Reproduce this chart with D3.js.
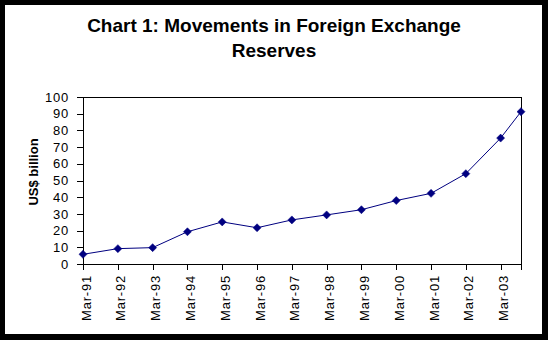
<!DOCTYPE html>
<html>
<head>
<meta charset="utf-8">
<script src="https://cdn.jsdelivr.net/npm/d3@7"></script>
<style>
  html, body { margin: 0; padding: 0; background: #000; }
  svg { display: block; }
  text { font-family: "Liberation Sans", Arial, sans-serif; }
</style>
</head>
<body>
<svg id="chart" width="548" height="340"></svg>
<script>
// Foreign exchange reserves, US$ billion, end of period
const dates = ["1991-03-01", "1992-03-01", "1993-03-01", "1994-03-01", "1995-03-01",
               "1996-03-01", "1997-03-01", "1998-03-01", "1999-03-01", "2000-03-01",
               "2001-03-01", "2002-03-01", "2003-03-01", "2003-10-01"];
const reserves = [5.8, 9.2, 9.8, 19.3, 25.2, 21.7, 26.4, 29.4, 32.5, 38.0, 42.3, 54.1, 75.4, 91.2];
const tickDates = ["1991-03-01", "1992-03-01", "1993-03-01", "1994-03-01", "1995-03-01",
                   "1996-03-01", "1997-03-01", "1998-03-01", "1999-03-01", "2000-03-01",
                   "2001-03-01", "2002-03-01", "2003-03-01"];
const yTicks = [0, 10, 20, 30, 40, 50, 60, 70, 80, 90, 100];
const titleLines = ["Chart 1: Movements in Foreign Exchange", "Reserves"];
const yTitle = "US$ billion";

const parse = d3.utcParse("%Y-%m-%d");
const fmt = d3.utcFormat("%b-%y");
const points = dates.map((d, i) => ({ date: parse(d), value: reserves[i] }));

const svg = d3.select("#chart");
const W = 548, H = 340;
const plot = { left: 83, top: 97, right: 521, bottom: 264 };
const navy = "#000080";

// page frame
svg.append("rect").attr("x", 0).attr("y", 0).attr("width", W).attr("height", H).attr("fill", "#000");
svg.append("rect").attr("x", 5).attr("y", 5).attr("width", 537).attr("height", 329).attr("fill", "#fff");

// title
svg.append("g").selectAll("text").data(titleLines).join("text")
  .attr("x", 274)
  .attr("y", (d, i) => 32 + i * 25)
  .attr("text-anchor", "middle")
  .attr("font-size", 19)
  .attr("font-weight", "bold")
  .attr("fill", "#000")
  .text(d => d);

const x = d3.scaleUtc()
  .domain(d3.extent(points, d => d.date))
  .range([plot.left, plot.right]);
const y = d3.scaleLinear()
  .domain([0, 100])
  .range([plot.bottom, plot.top]);

// plot area box
svg.append("rect")
  .attr("x", plot.left).attr("y", plot.top)
  .attr("width", plot.right - plot.left).attr("height", plot.bottom - plot.top)
  .attr("fill", "#fff").attr("stroke", "#000").attr("stroke-width", 1)
  .attr("shape-rendering", "crispEdges");

// y axis
const yAxis = svg.append("g")
  .attr("transform", `translate(${plot.left},0)`)
  .call(d3.axisLeft(y).tickValues(yTicks).tickSize(6).tickPadding(8).tickFormat(d3.format("d")));
yAxis.select(".domain").attr("stroke", "#000").attr("shape-rendering", "crispEdges");
yAxis.selectAll(".tick line").attr("stroke", "#000").attr("shape-rendering", "crispEdges");
yAxis.selectAll(".tick text")
  .attr("font-family", "'Liberation Sans', Arial, sans-serif")
  .attr("font-size", 13)
  .attr("letter-spacing", "0.8px")
  .attr("fill", "#000");

// x axis
const xAxis = svg.append("g")
  .attr("transform", `translate(0,${plot.bottom})`)
  .call(d3.axisBottom(x).tickValues(tickDates.map(parse)).tickSize(6).tickFormat(fmt));
xAxis.select(".domain").attr("stroke", "#000").attr("shape-rendering", "crispEdges");
xAxis.selectAll(".tick line").attr("stroke", "#000").attr("shape-rendering", "crispEdges");
xAxis.selectAll(".tick text")
  .attr("font-family", "'Liberation Sans', Arial, sans-serif")
  .attr("font-size", 13)
  .attr("letter-spacing", "0.8px")
  .attr("fill", "#000")
  .attr("text-anchor", "end")
  .attr("dy", 0)
  .attr("y", 0)
  .attr("transform", "translate(7,11) rotate(-90)");

// y axis title
svg.append("text")
  .attr("transform", "translate(38,172) rotate(-90)")
  .attr("text-anchor", "middle")
  .attr("font-size", 13)
  .attr("font-weight", "bold")
  .attr("fill", "#000")
  .text(yTitle);

// series line
const line = d3.line().x(d => x(d.date)).y(d => y(d.value));
svg.append("path")
  .datum(points)
  .attr("d", line)
  .attr("fill", "none")
  .attr("stroke", navy)
  .attr("stroke-width", 1);

// diamond markers
const diamond = d3.symbol().type(d3.symbolSquare).size(32);
svg.append("g").selectAll("path").data(points).join("path")
  .attr("d", diamond)
  .attr("transform", d => `translate(${x(d.date)},${y(d.value)}) rotate(45)`)
  .attr("fill", navy)
  .attr("stroke", navy)
  .attr("stroke-width", 0.5);
</script>
</body>
</html>
